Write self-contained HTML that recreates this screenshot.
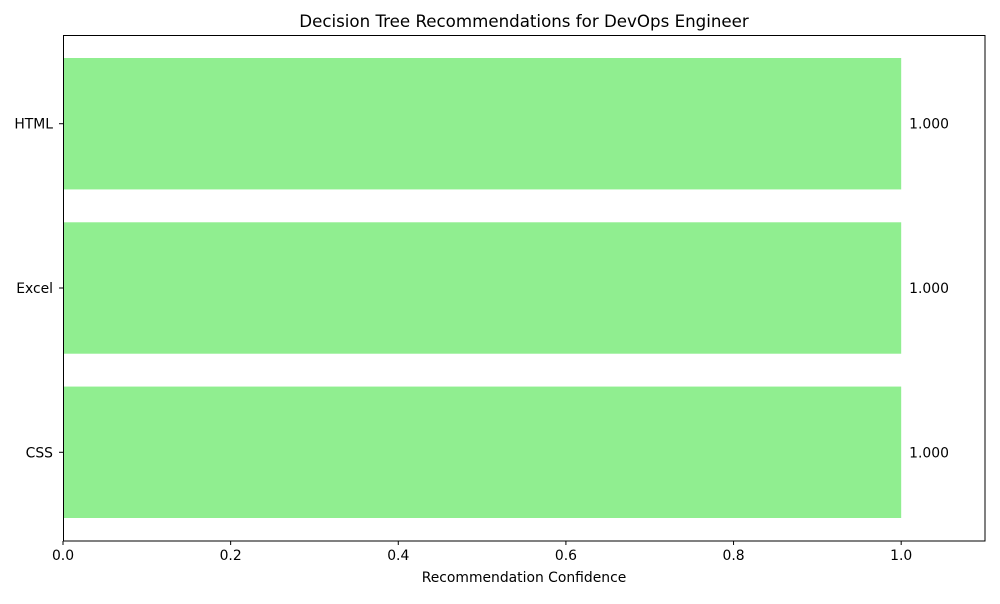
<!DOCTYPE html>
<html><head><meta charset="utf-8"><style>
body{margin:0;background:#fff;font-family:"DejaVu Sans","Liberation Sans",sans-serif;}
svg text{font-family:"DejaVu Sans","Liberation Sans",sans-serif;fill:#000;}
</style></head><body>
<svg id="chart" width="1000" height="600" xmlns="http://www.w3.org/2000/svg">
<rect width="1000" height="600" fill="#fff"/>
<text x="524" y="27" font-size="16.67" text-anchor="middle">Decision Tree Recommendations for DevOps Engineer</text>
<g id="bars"></g>
<g id="xticks"></g>
<g id="yticks"></g>
<rect x="63.5" y="35.5" width="921.5" height="505.5" fill="none" stroke="#000" stroke-width="1"/>
<text x="524" y="582" font-size="13.9" text-anchor="middle">Recommendation Confidence</text>
</svg>
<script>
const categories = ["CSS", "Excel", "HTML"];
const values = [1.0, 1.0, 1.0];
const valueLabels = ["1.000", "1.000", "1.000"];
const xTickValues = [0.0, 0.2, 0.4, 0.6, 0.8, 1.0];
const xTickLabels = ["0.0", "0.2", "0.4", "0.6", "0.8", "1.0"];

const L = 63, R = 985, T = 35, B = 541;
const xMin = 0, xMax = 1.1, yMin = -0.54, yMax = 2.54;
const xs = v => L + (v - xMin) / (xMax - xMin) * (R - L);
const ys = v => B - (v - yMin) / (yMax - yMin) * (B - T);
const NS = "http://www.w3.org/2000/svg";
const bars = document.getElementById('bars');
const xt = document.getElementById('xticks');
const yt = document.getElementById('yticks');
function mk(tag, attrs, parent) {
  const e = document.createElementNS(NS, tag);
  for (const k in attrs) e.setAttribute(k, attrs[k]);
  parent.appendChild(e);
  return e;
}
const bh = 0.8;
categories.forEach((c, i) => {
  const y0 = ys(i + bh / 2), y1 = ys(i - bh / 2);
  const r = mk('rect', {x: xs(0), y: y0, width: xs(values[i]) - xs(0), height: y1 - y0, fill: '#90ee90'}, bars);
  
  
  const t = mk('text', {x: xs(values[i]) + 8, y: ys(i) + 5, 'font-size': 13.9}, bars);
  t.textContent = valueLabels[i];
  
  
  const tk = mk('line', {x1: L - 4, x2: L, y1: ys(i), y2: ys(i), stroke: '#000'}, yt);
  
  
  const yl = mk('text', {x: L - 10, y: ys(i) + 5, 'font-size': 13.9, 'text-anchor': 'end'}, yt);
  yl.textContent = c;
  
  
});
xTickValues.forEach((v, i) => {
  const tk = mk('line', {x1: xs(v), x2: xs(v), y1: B, y2: B + 4, stroke: '#000'}, xt);
  
  
  const l = mk('text', {x: xs(v), y: B + 19, 'font-size': 13.9, 'text-anchor': 'middle'}, xt);
  l.textContent = xTickLabels[i];
  
  
});
</script>
</body></html>
